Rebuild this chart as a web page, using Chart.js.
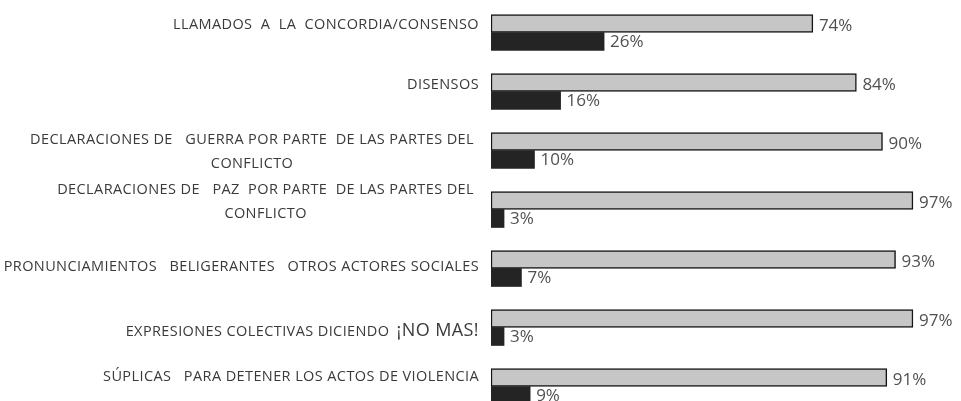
<!DOCTYPE html>
<html>
<head>
<meta charset="utf-8">
<script src="https://cdn.jsdelivr.net/npm/chart.js@4.4.1/dist/chart.umd.min.js"></script>
<style>
  html, body { margin: 0; padding: 0; background: #fff; overflow: hidden; }
  #wrap { width: 961px; height: 420px; }
</style>
</head>
<body>
<div id="wrap"><canvas id="chart" width="961" height="420"></canvas></div>
<script>
// categories (one entry per row, lines of the label)
const categories = [
    ['LLAMADOS  A  LA  CONCORDIA/CONSENSO'],
    ['DISENSOS'],
    ['DECLARACIONES DE   GUERRA POR PARTE  DE LAS PARTES DEL', 'CONFLICTO'],
    ['DECLARACIONES DE   PAZ  POR PARTE  DE LAS PARTES DEL', 'CONFLICTO'],
    ['PRONUNCIAMIENTOS   BELIGERANTES   OTROS ACTORES SOCIALES'],
    ['EXPRESIONES COLECTIVAS DICIENDO ¡NO MAS!'],
    ['SÚPLICAS   PARA DETENER LOS ACTOS DE VIOLENCIA']
];

// series values (%)
const lightValues = [74, 84, 90, 97, 93, 97, 91];
const darkValues = [26, 16, 10, 3, 7, 3, 9];

// small vertical nudges so the row labels sit like in the scan
const labelNudge = [-8, -7, 0, -9, -2, 3, -10];

const labelFont = '14.5px "Open Sans"';
const bigFont = '18px "Open Sans"';

function drawRich(ctx, text, xRight, y) {
    // the "¡NO MAS!" part is set bigger in the original
    const k = text.indexOf('¡');
    ctx.textAlign = 'right';
    if (k < 0) {
        ctx.font = labelFont;
        ctx.fillText(text, xRight, y);
        return;
    }
    const head = text.slice(0, k), tail = text.slice(k);
    ctx.font = bigFont;
    const wTail = ctx.measureText(tail).width;
    ctx.fillText(tail, xRight, y);
    ctx.font = labelFont;
    ctx.fillText(head, xRight - wTail - 3, y + 1);
}

// row labels on the left
const sideLabels = {
    id: 'sideLabels',
    afterDraw(chart) {
        const ctx = chart.ctx;
        const yScale = chart.scales.y;
        const xRight = chart.chartArea.left - 12;
        ctx.save();
        ctx.fillStyle = '#3a3a3a';
        ctx.textBaseline = 'middle';
        ctx.letterSpacing = '0.4px';
        categories.forEach((lines, i) => {
            const cy = yScale.getPixelForTick(i) + labelNudge[i];
            if (lines.length === 1) {
                drawRich(ctx, lines[0], xRight, cy);
            } else {
                ctx.font = labelFont;
                const w = ctx.measureText(lines[0]).width;
                const top = cy - 11;
                ctx.textAlign = 'right';
                ctx.fillText(lines[0], xRight - 5, top);
                ctx.textAlign = 'center';
                ctx.fillText(lines[1], xRight - 5 - w / 2, top + 24);
            }
        });
        ctx.restore();
    }
};

// percentage labels at the end of each bar
const valueLabels = {
    id: 'valueLabels',
    afterDatasetsDraw(chart) {
        const ctx = chart.ctx;
        ctx.save();
        ctx.fillStyle = '#505050';
        ctx.font = '17px "Open Sans"';
        ctx.textAlign = 'left';
        ctx.textBaseline = 'middle';
        chart.data.datasets.forEach((ds, d) => {
            chart.getDatasetMeta(d).data.forEach((bar, i) => {
                ctx.fillText(ds.data[i] + '%', bar.x + 6, bar.y + (d === 0 ? 3 : 1));
            });
        });
        ctx.restore();
    }
};

new Chart(document.getElementById('chart'), {
    type: 'bar',
    data: {
        labels: categories,
        datasets: [
            {
                data: lightValues,
                backgroundColor: '#c6c6c6',
                borderColor: '#151515',
                borderWidth: 1.5,
                borderSkipped: false,
                barThickness: 18
            },
            {
                data: darkValues,
                backgroundColor: '#242424',
                borderWidth: 0,
                barThickness: 18
            }
        ]
    },
    options: {
        indexAxis: 'y',
        responsive: false,
        animation: false,
        devicePixelRatio: 1,
        layout: { padding: { top: 3, bottom: 4, right: 35, left: 0 } },
        plugins: {
            legend: { display: false },
            tooltip: { enabled: false }
        },
        scales: {
            x: {
                min: 0,
                max: 100,
                display: false
            },
            y: {
                grid: { display: false },
                border: { display: false },
                ticks: { display: false },
                afterFit(scale) { scale.width = 491; }
            }
        }
    },
    plugins: [sideLabels, valueLabels]
});
</script>
</body>
</html>
